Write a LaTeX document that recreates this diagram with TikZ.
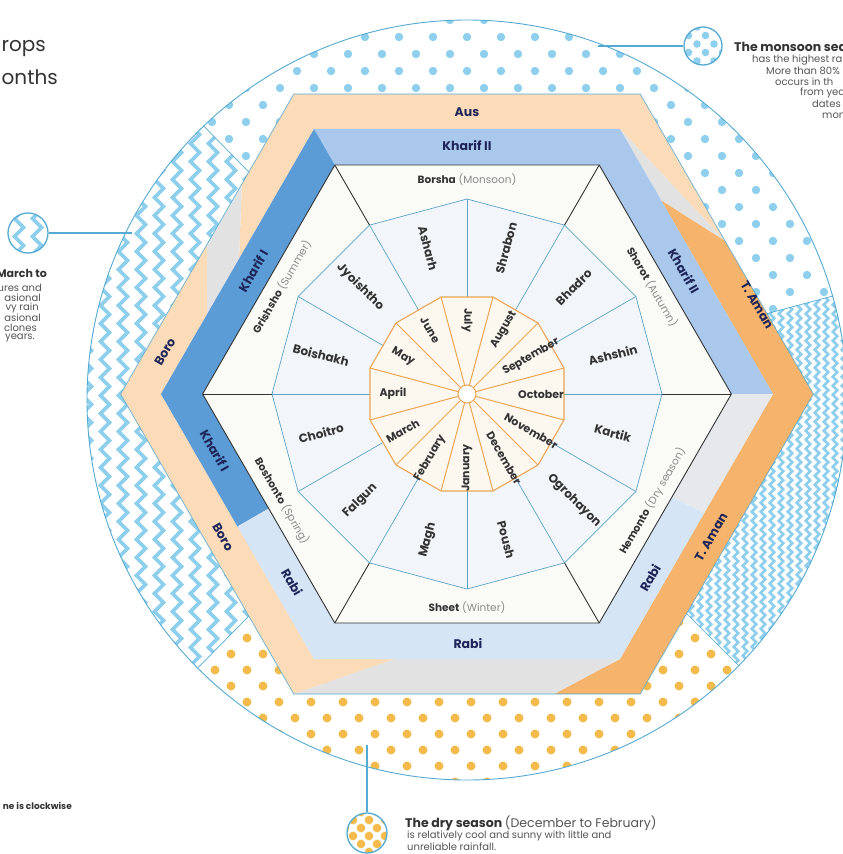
\documentclass[tikz,border=0pt]{standalone}
\usepackage{fontspec}
\setmainfont{Poppins}
\usetikzlibrary{calc,decorations.pathmorphing}
\definecolor{peach}{HTML}{FCDBB8}
\definecolor{tamanc}{HTML}{F6B36C}
\definecolor{kh1}{HTML}{5B9BD6}
\definecolor{kh2}{HTML}{A9C8EC}
\definecolor{rabic}{HTML}{D6E5F6}
\definecolor{greyb}{HTML}{E2E2E2}
\definecolor{greyblue}{HTML}{E6E8EC}
\definecolor{dotblue}{HTML}{8FCFEE}
\definecolor{dotorange}{HTML}{F3BB4C}
\definecolor{lineblue}{HTML}{55AAD2}
\definecolor{navy}{HTML}{1E2558}
\definecolor{monthring}{HTML}{F2F6FA}
\definecolor{seasonbg}{HTML}{FAFAF7}
\definecolor{innerbg}{HTML}{FCF8F0}
\definecolor{orangeline}{HTML}{EBA552}
\definecolor{ringline}{HTML}{5DA3C6}
\definecolor{txt}{HTML}{333333}
\definecolor{parencol}{HTML}{8A8A8A}
\definecolor{bodytxt}{HTML}{555555}
\tikzset{
  croplbl/.style={font=\fontsize{12.5}{14}\selectfont\bfseries, text=navy, inner sep=0},
  gmonth/.style={font=\fontsize{11}{12}\selectfont\bfseries, text=txt, inner sep=0},
  bmonth/.style={font=\fontsize{12}{13}\selectfont\bfseries, text=txt, inner sep=0},
  seasonlbl/.style={font=\fontsize{10.5}{12}\selectfont, text=txt, inner sep=0},
  wavy/.style={draw=dotblue, line width=3.6, decorate, decoration={zigzag, segment length=18, amplitude=4.5}},
  finewavy/.style={draw=dotblue, line width=2.6, decorate, decoration={zigzag, segment length=9, amplitude=2.2}},
  annc/.style={circle, draw=lineblue, line width=1.3, minimum size=40, inner sep=0},
  annline/.style={draw=lineblue, line width=1.3},
  smalltxt/.style={font=\fontsize{10}{11}\selectfont, text=bodytxt, inner sep=0},
  headtxt/.style={font=\fontsize{12.5}{14}\selectfont\bfseries, text=txt, inner sep=0},
}
\begin{document}
\begin{tikzpicture}[x=1pt,y=-1pt]
\useasboundingbox (0,0) rectangle (843,854);
\fill[white] (0,0) rectangle (843,854);

\begin{scope}[shift={(467,394)}]
  % ---------- outer ring patterns ----------
  \begin{scope}
    \clip (0,6) circle (380);
    \begin{scope}
      \clip (0,0) -- (-15:900) -- (-75:900) -- (-134.5:900) -- cycle;
      \foreach \j in {0,...,9}{\foreach \i in {0,...,25}{
        \fill[dotblue] (-391+34*\i,-374+34*\j) circle (4.2);
        \fill[dotblue] (-374+34*\i,-357+34*\j) circle (4.2);}}
    \end{scope}
    \begin{scope}
      \clip (0,0) -- (134.5:900) -- (90:900) -- (45:900) -- cycle;
      \foreach \j in {0,...,6}{\foreach \i in {0,...,19}{
        \fill[dotorange] (-300+32*\i,196+32*\j) circle (4.5);
        \fill[dotorange] (-284+32*\i,212+32*\j) circle (4.5);}}
    \end{scope}
    \begin{scope}
      \clip (0,0) -- (-134.5:900) -- (180:900) -- (134.5:900) -- cycle;
      \foreach \k in {0,...,9} \draw[wavy] (-380+18*\k,-300) -- (-380+18*\k,300);
    \end{scope}
    \begin{scope}
      \clip (0,0) -- (45:900) -- (0:900) -- (-15:900) -- cycle;
      \foreach \k in {0,...,21} \draw[finewavy] (188+9*\k,-150) -- (188+9*\k,300);
    \end{scope}
    \foreach \a in {-15,-134.5,134.5,45} \draw[lineblue, line width=0.7] (0,0) -- (\a:420);
  \end{scope}
  \draw[lineblue, line width=0.9] (0,6) circle (380);

  % ---------- hexagon coordinates ----------
  \foreach \k in {0,...,5}{
    \coordinate (Vo\k) at (-60*\k:346.4);
    \coordinate (Vm\k) at (-60*\k:306);
    \coordinate (Vi\k) at (-60*\k:264.4);}
  \coordinate (AoR) at ($(Vo1)!0.49!(Vo0)$);
  \coordinate (AmR) at ($(Vm1)!0.27!(Vm0)$);
  \coordinate (AoL) at ($(Vo2)!0.30!(Vo3)$);
  \coordinate (AmL) at ($(Vm2)!0.49!(Vm3)$);
  \coordinate (BoL) at ($(Vo2)!0.50!(Vo3)$);
  \coordinate (BmL) at ($(Vm2)!0.70!(Vm3)$);
  \coordinate (BmB) at ($(Vm4)!0.265!(Vm5)$);
  \coordinate (BoR) at ($(Vo4)!0.751!(Vo5)$);
  \coordinate (P1o) at ($(Vm3)!0.5!(Vm4)$);
  \coordinate (P1i) at ($(Vi3)!0.5!(Vi4)$);
  \coordinate (P2o) at ($(Vm5)!0.55!(Vm0)$);
  \coordinate (P2i) at ($(Vi5)!0.55!(Vi0)$);

  % ---------- outer crop band ----------
  \fill[peach] (Vo2) -- (Vo1) -- (AoR) -- (Vm1) -- (Vm2) -- (AmL) -- (AoL) -- cycle;
  \fill[greyb] (Vm1) -- (AoR) -- (AmR) -- cycle;
  \fill[tamanc] (AmR) -- (AoR) -- (Vo0) -- (Vo5) -- (BoR) -- (Vm5) -- (Vm0) -- cycle;
  \fill[greyb] (AoL) -- (BoL) -- (BmL) -- (AmL) -- cycle;
  \fill[peach] (BoL) -- (Vo3) -- (Vo4) -- (BmB) -- (Vm4) -- (Vm3) -- (BmL) -- cycle;
  \fill[greyb] (Vo4) -- (BoR) -- (Vm5) -- (BmB) -- cycle;
  % ---------- season crop band ----------
  \fill[kh2] (Vm2) -- (Vm1) -- (Vm0) -- (Vi0) -- (Vi1) -- (Vi2) -- cycle;
  \fill[kh1] (Vm2) -- (Vm3) -- (P1o) -- (P1i) -- (Vi3) -- (Vi2) -- cycle;
  \fill[rabic] (P1o) -- (Vm4) -- (Vm5) -- (P2o) -- (P2i) -- (Vi5) -- (Vi4) -- (P1i) -- cycle;
  \fill[greyblue] (P2o) -- (Vm0) -- (Vi0) -- (P2i) -- cycle;
  \draw[lineblue, line width=0.6] (Vo0) -- (Vo1) -- (Vo2) -- (Vo3) -- (Vo4) -- (Vo5) -- cycle;

  % ---------- inner hexagon ----------
  \filldraw[fill=seasonbg, draw=txt, line width=0.9] (Vi0) -- (Vi1) -- (Vi2) -- (Vi3) -- (Vi4) -- (Vi5) -- cycle;
  \filldraw[fill=monthring, draw=ringline, line width=0.7] (0:195) \foreach \k in {1,...,11}{ -- (-30*\k:195) } -- cycle;
  \foreach \k in {0,...,5} \draw[txt, line width=0.9] (Vi\k) -- (-60*\k:195);
  \foreach \k in {0,...,11} \draw[ringline, line width=0.7] (-30*\k:195) -- (-30*\k:97);
  \filldraw[fill=innerbg, draw=orangeline, line width=1.1] (-15:100.4) \foreach \k in {1,...,11}{ -- (-15-30*\k:100.4) } -- cycle;
  \foreach \k in {0,...,11} \draw[orangeline, line width=1] (-15-30*\k:9) -- (-15-30*\k:100.4);
  \filldraw[fill=white, draw=orangeline, line width=1] (0,0) circle (9);

  % ---------- month labels ----------
  \foreach \nm/\a/\r in {July/-90/-90, August/-60/60, September/-30/30, October/0/0, November/30/-30, December/60/-60, January/90/90, February/120/60, March/150/30, April/180/0, May/-150/-30, June/-120/-60}
    \node[gmonth, rotate=\r] (g\nm) at (\a:74) {\nm};
  \foreach \nm/\a/\r in {Asharh/-105/-75, Shrabon/-75/75, Bhadro/-45/45, Ashshin/-15/15, Kartik/15/-15, Ogrohayon/45/-45, Poush/75/-75, Magh/105/75, Falgun/135/45, Choitro/165/15, Boishakh/-165/-15, Jyoishtho/-135/-45}
    \node[bmonth, rotate=\r] (b\nm) at (\a:151) {\nm};
  \foreach \a/\r/\nm/\pn in {-90/0/Borsha/Monsoon, -30/-60/Shorot/Autumn, 30/60/Hemonto/Dry season, 90/0/Sheet/Winter, 150/-60/Boshonto/Spring, -150/60/Grishsho/Summer}
    \node[seasonlbl, rotate=\r] (s\nm) at (\a:214) {{\bfseries\nm} \textcolor{parencol}{(\pn)}};
\end{scope}

% ---------- crop labels ----------
\node[croplbl] (cAus) at (467,112) {Aus};
\node[croplbl] (cKIItop) at (467,146) {Kharif II};
\node[croplbl, rotate=-60] (cKIIright) at (684,271) {Kharif II};
\node[croplbl, rotate=-60] (cTA1) at (757,305) {T. Aman};
\node[croplbl, rotate=60] (cTA2) at (711,537) {T. Aman};
\node[croplbl, rotate=60] (cRabiR) at (650,578) {Rabi};
\node[croplbl] (cRabiB) at (468,644) {Rabi};
\node[croplbl, rotate=-60] (cRabiL) at (292,582) {Rabi};
\node[croplbl, rotate=-60] (cBoroL) at (223,537) {Boro};
\node[croplbl, rotate=-60] (cKIL) at (215,451) {Kharif I};
\node[croplbl, rotate=60] (cKIU) at (253,271) {Kharif I};
\node[croplbl, rotate=60] (cBoroU) at (165,352) {Boro};

% ---------- annotations ----------
\begin{scope}
  \clip (28,233) circle (20);
  \foreach \x in {19,37} \draw[wavy] (\x,205) -- (\x,265);
\end{scope}
\node[annc] (anL) at (28,233) {};
\coordinate (anLend) at (132,233);
\draw[annline] (anL) -- (anLend);

\begin{scope}
  \clip (703,46) circle (19);
  \foreach \i in {0,...,3}{\foreach \j in {0,...,2}{
    \fill[dotblue] (680+17*\i,27+17*\j) circle (3.8);
    \fill[dotblue] (688.5+17*\i,35.5+17*\j) circle (3.8);}}
\end{scope}
\node[annc, minimum size=38] (anT) at (703,46) {};
\coordinate (anTend) at (598,46);
\draw[annline] (anTend) -- (anT);

\begin{scope}
  \clip (367,833) circle (20);
  \foreach \i in {0,...,3}{\foreach \j in {0,...,2}{
    \fill[dotorange] (345+16*\i,812+16*\j) circle (4.3);
    \fill[dotorange] (353+16*\i,820+16*\j) circle (4.3);}}
\end{scope}
\node[annc] (anB) at (367,833) {};
\coordinate (anBend) at (367,745);
\draw[annline] (anBend) -- (anB);

% ---------- texts ----------
\node[anchor=east, font=\fontsize{20}{24}\selectfont, text=txt, inner sep=0] (title1) at (46,49) {rops};
\node[anchor=east, font=\fontsize{20}{24}\selectfont, text=txt, inner sep=0] (title2) at (58,77) {onths};

\node[font=\fontsize{11}{13}\selectfont\bfseries, text=txt, inner sep=0, anchor=east] (lh) at (47,273) {March to};
\node[smalltxt, anchor=east] (l1) at (42,288) {ures and};
\node[smalltxt, anchor=east] (l2) at (41,298) {asional};
\node[smalltxt, anchor=east] (l3) at (39,308) {vy rain};
\node[smalltxt, anchor=east] (l4) at (41,318) {asional};
\node[smalltxt, anchor=east] (l5) at (37,328) {clones};
\node[smalltxt, anchor=east] (l6) at (35,338) {years.};

\node[headtxt, anchor=west] (rh) at (734,47) {The monsoon sea};
\node[smalltxt, anchor=west] (r1) at (752,60) {has the highest ra};
\node[smalltxt, anchor=west] (r2) at (766,71) {More than 80\%};
\node[smalltxt, anchor=west] (r3) at (775,82) {occurs in th};
\node[smalltxt, anchor=west] (r4) at (800,93) {from yea};
\node[smalltxt, anchor=west] (r5) at (812,104) {dates};
\node[smalltxt, anchor=west] (r6) at (822,116) {mon};

\node[headtxt, anchor=west] (bh) at (405,823) {The dry season \textcolor{bodytxt}{\mdseries (December to February)}};
\node[smalltxt, anchor=west] (b1) at (407,836) {is relatively cool and sunny with little and};
\node[smalltxt, anchor=west] (b2) at (407,847) {unreliable rainfall.};

\node[font=\fontsize{9}{10}\selectfont\bfseries, text=txt, anchor=east, inner sep=0] (cw) at (72,806) {ne is clockwise};
\end{tikzpicture}
\end{document}
